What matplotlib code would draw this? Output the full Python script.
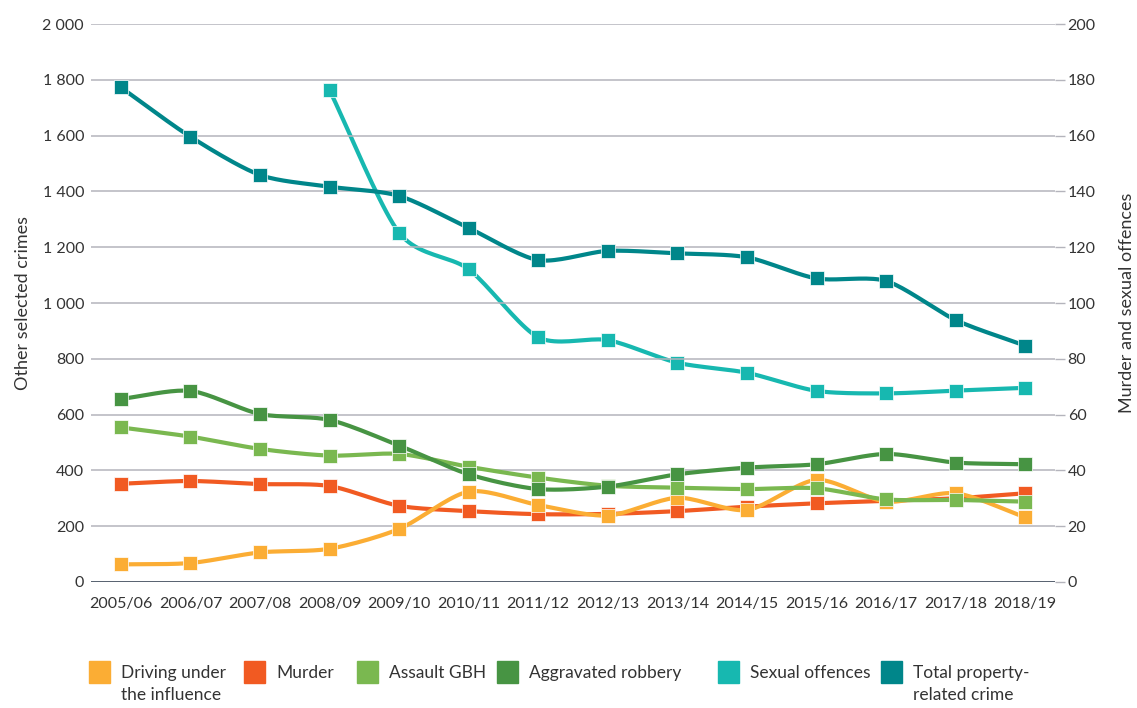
import numpy as np
import matplotlib
matplotlib.use('Agg')
import matplotlib.pyplot as plt
from matplotlib.patches import Rectangle

plt.rcParams['font.family'] = ['Lato', 'DejaVu Sans']

years = ['2005/06', '2006/07', '2007/08', '2008/09', '2009/10', '2010/11', '2011/12',
         '2012/13', '2013/14', '2014/15', '2015/16', '2016/17', '2017/18', '2018/19']

# left axis: other selected crimes
driving = [63, 68, 106, 119, 190, 324, 276, 238, 302, 258, 366, 288, 318, 232]
assault = [554, 521, 477, 453, 459, 413, 374, 345, 338, 333, 336, 296, 294, 288]
robbery = [656, 685, 602, 581, 489, 386, 333, 342, 386, 410, 422, 459, 428, 422]
property_crime = [1773, 1596, 1459, 1417, 1384, 1269, 1154, 1187, 1178, 1164, 1088, 1079, 939, 847]

# right axis: murder and sexual offences
murder = [35.2, 36.2, 35.1, 34.4, 27.3, 25.4, 24.3, 24.4, 25.4, 27.0, 28.2, 29.1, 30.0, 31.8]
sexual = [np.nan, np.nan, np.nan, 176.3, 125.2, 112.1, 87.7, 86.7, 78.6, 75.0, 68.5, 67.6, 68.6, 69.6]

left_ticks = [0, 200, 400, 600, 800, 1000, 1200, 1400, 1600, 1800, 2000]
right_ticks = [0, 20, 40, 60, 80, 100, 120, 140, 160, 180, 200]

c_driving = '#FBAD34'
c_murder = '#F15A22'
c_assault = '#7AB850'
c_robbery = '#479443'
c_sexual = '#17B8B0'
c_property = '#00868A'
text_col = '#333333'


def smooth(x, y, n=20):
    # Catmull-Rom curve through the points, for a softened line
    x = np.asarray(x, float)
    y = np.asarray(y, float)
    ok = ~np.isnan(y)
    x, y = x[ok], y[ok]
    px = np.concatenate([[2 * x[0] - x[1]], x, [2 * x[-1] - x[-2]]])
    py = np.concatenate([[2 * y[0] - y[1]], y, [2 * y[-1] - y[-2]]])
    t = np.linspace(0, 1, n, endpoint=False)
    xs, ys = [], []
    for i in range(1, len(px) - 2):
        for p, out in ((px, xs), (py, ys)):
            p0, p1, p2, p3 = p[i - 1], p[i], p[i + 1], p[i + 2]
            m1 = 0.5 * (p2 - p0) * 0.8
            m2 = 0.5 * (p3 - p1) * 0.8
            h00 = 2 * t**3 - 3 * t**2 + 1
            h10 = t**3 - 2 * t**2 + t
            h01 = -2 * t**3 + 3 * t**2
            h11 = t**3 - t**2
            out.extend(h00 * p1 + h10 * m1 + h01 * p2 + h11 * m2)
    xs.append(x[-1])
    ys.append(y[-1])
    return np.array(xs), np.array(ys)


fig = plt.figure(figsize=(11.37, 7.08), dpi=100)
ax = fig.add_axes([0.080, 0.178, 0.848, 0.788])
ax2 = ax.twinx()

x = np.arange(len(years))

for yv in left_ticks[1:]:
    ax.axhline(yv, color='#b4b4bc', lw=1.1, zorder=0)
ax.axhline(0, color='#3a4656', lw=1.2, zorder=0)

left_series = [(driving, c_driving), (assault, c_assault), (robbery, c_robbery),
               (property_crime, c_property)]
right_series = [(murder, c_murder), (sexual, c_sexual)]

ax.set_zorder(2)
ax.patch.set_visible(False)
ax2.set_zorder(1)

for vals, col in right_series:
    sx, sy = smooth(x, vals)
    ax2.plot(sx, sy, color=col, lw=3, solid_capstyle='round')
    ax2.plot(x, vals, 's', color=col, ms=10.5, mec='white', mew=0.5)

for vals, col in left_series:
    sx, sy = smooth(x, vals)
    ax.plot(sx, sy, color=col, lw=3, solid_capstyle='round')
    ax.plot(x, vals, 's', color=col, ms=10.5, mec='white', mew=0.5)

ax.set_xlim(-0.43, len(years) - 1 + 0.43)
ax.set_ylim(0, 2000)
ax2.set_ylim(0, 200)

ax.set_yticks(left_ticks)
ax.set_yticklabels([f'{v:,}'.replace(',', ' ') for v in left_ticks])
ax2.set_yticks(right_ticks)
ax.set_xticks(x)
ax.set_xticklabels(years)

for a in (ax, ax2):
    for s in a.spines.values():
        s.set_visible(False)
ax.tick_params(axis='y', length=0, pad=5, labelsize=11.5, labelcolor=text_col)
ax.tick_params(axis='x', length=0, pad=11, labelsize=11.5, labelcolor=text_col)
ax2.tick_params(axis='y', length=7, width=1, color='#b4b4bc', pad=2,
                labelsize=11.5, labelcolor=text_col)

ax.set_ylabel('Other selected crimes', fontsize=13, color=text_col, labelpad=8)
ax2.set_ylabel('Murder and sexual offences', fontsize=13, color=text_col, labelpad=17)

# legend along the bottom
legend_items = [('Driving under\nthe influence', c_driving, 89),
                ('Murder', c_murder, 244),
                ('Assault GBH', c_assault, 357),
                ('Aggravated robbery', c_robbery, 497),
                ('Sexual offences', c_sexual, 718),
                ('Total property-\nrelated crime', c_property, 881)]
W, H = 1137, 708
for label, col, px in legend_items:
    fig.patches.append(Rectangle((px / W, 1 - 683 / H), 21 / W, 22 / H,
                                 transform=fig.transFigure, color=col))
    fig.text((px + 32) / W, 1 - 665 / H, label, fontsize=12.5, color=text_col,
             va='top', ha='left', linespacing=1.45)

fig.savefig('out.png', dpi=100)
